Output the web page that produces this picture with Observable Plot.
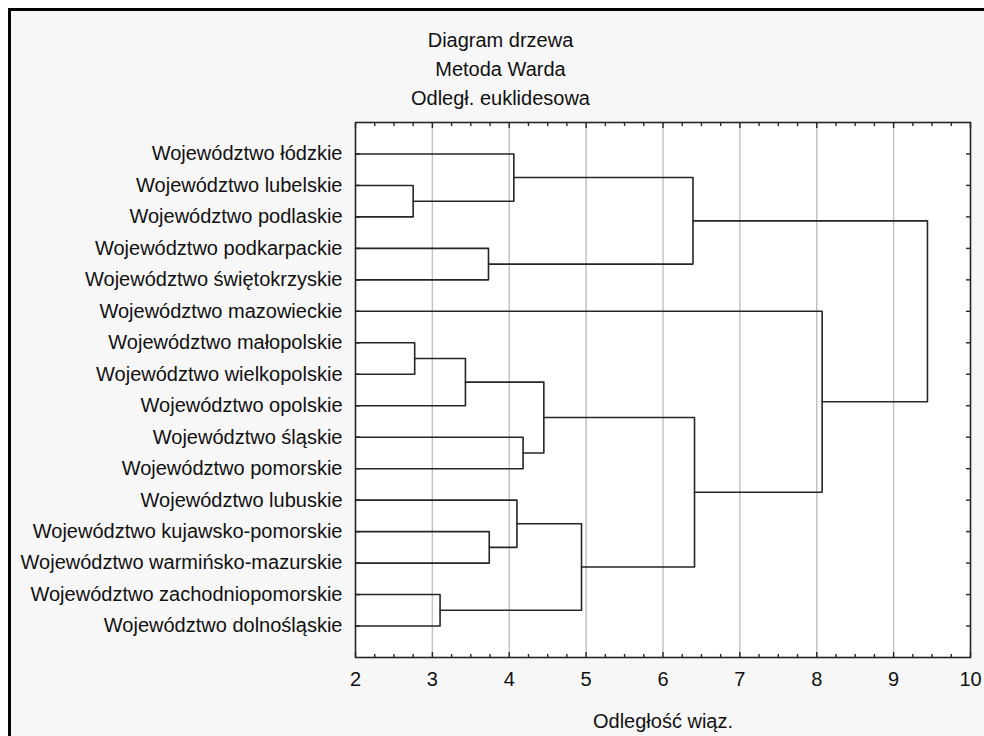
<!DOCTYPE html>
<html><head><meta charset="utf-8">
<script src="https://cdn.jsdelivr.net/npm/d3@7"></script>
<script src="https://cdn.jsdelivr.net/npm/@observablehq/plot@0.6"></script>
<style>
html,body{margin:0;padding:0;background:#fff;width:984px;height:736px;overflow:hidden;}
#bg{position:absolute;left:8px;top:8px;width:976px;height:728px;border-left:3px solid #000;border-top:3px solid #000;background:#f7f7f7;box-sizing:border-box;}
#chart{position:absolute;left:0;top:0;}
</style></head><body><div id="bg"></div><div id="chart"></div>
<script>
const titleLines = ["Diagram drzewa", "Metoda Warda", "Odległ. euklidesowa"];
const xLabel = "Odległość wiąz.";
const leaves = [
  "Województwo łódzkie",
  "Województwo lubelskie",
  "Województwo podlaskie",
  "Województwo podkarpackie",
  "Województwo świętokrzyskie",
  "Województwo mazowieckie",
  "Województwo małopolskie",
  "Województwo wielkopolskie",
  "Województwo opolskie",
  "Województwo śląskie",
  "Województwo pomorskie",
  "Województwo lubuskie",
  "Województwo kujawsko-pomorskie",
  "Województwo warmińsko-mazurskie",
  "Województwo zachodniopomorskie",
  "Województwo dolnośląskie"
];
// merges (scipy-style: index < 16 = leaf, >= 16 = earlier merge)
const mergeLeft   = [1, 6, 14, 17, 3, 12, 0, 11, 9, 19, 23, 22, 25, 5, 27];
const mergeRight  = [2, 7, 15, 8, 4, 13, 16, 21, 10, 24, 18, 20, 26, 28, 29];
const mergeHeight = [2.75, 2.77, 3.10, 3.43, 3.73, 3.74, 4.06, 4.10, 4.18, 4.45, 4.94, 6.39, 6.41, 8.07, 9.44];
const xTicks = [2, 3, 4, 5, 6, 7, 8, 9, 10];
const gridTicks = [3, 4, 5, 6, 7, 8, 9];
const minorTicks = [2.25, 2.5, 2.75, 3.25, 3.5, 3.75, 4.25, 4.5, 4.75, 5.25, 5.5, 5.75, 6.25, 6.5, 6.75, 7.25, 7.5, 7.75, 8.25, 8.5, 8.75, 9.25, 9.5, 9.75];
const xMin = 2, xMax = 10;

// build node positions
const n = leaves.length;
const nodeX = leaves.map(() => xMin);
const nodeY = leaves.map((_, i) => i);
const segs = [];
mergeHeight.forEach((h, k) => {
  const a = mergeLeft[k], b = mergeRight[k];
  const id = n + k;
  segs.push({id, x: nodeX[a], y: nodeY[a]});
  segs.push({id, x: h, y: nodeY[a]});
  segs.push({id, x: h, y: nodeY[b]});
  segs.push({id, x: nodeX[b], y: nodeY[b]});
  nodeX[id] = h;
  nodeY[id] = (nodeY[a] + nodeY[b]) / 2;
});
const rows = d3.range(n);

const font = "'Liberation Sans', Arial, sans-serif";
const tickStyle = {text: null, label: null, stroke: "#262626", strokeWidth: 1.4};
const chart = Plot.plot({
  width: 984,
  height: 736,
  marginLeft: 355,
  marginRight: 14,
  marginTop: 122,
  marginBottom: 79,
  style: {background: "transparent", fontFamily: font, fontSize: "20px", color: "#111"},
  x: {domain: [xMin, xMax], axis: null},
  y: {domain: [n, -1], axis: null},
  marks: [
    Plot.frame({fill: "white", stroke: null}),
    Plot.ruleX(gridTicks, {stroke: "#c4c4c4", strokeWidth: 1.5}),
    Plot.line(segs, {x: "x", y: "y", z: "id", stroke: "#262626", strokeWidth: 1.6}),
    Plot.frame({stroke: "#262626", strokeWidth: 1.6}),
    // inward ticks
    Plot.axisX({anchor: "top", ticks: xTicks, tickSize: 5, dy: 5, ...tickStyle}),
    Plot.axisX({anchor: "bottom", ticks: xTicks, tickSize: 5, dy: -5, ...tickStyle}),
    Plot.axisX({anchor: "top", ticks: minorTicks, tickSize: 3, dy: 3, ...tickStyle}),
    Plot.axisX({anchor: "bottom", ticks: minorTicks, tickSize: 3, dy: -3, ...tickStyle}),
    Plot.axisY({anchor: "right", ticks: rows, tickSize: 5, dx: -5, ...tickStyle}),
    Plot.axisY({anchor: "left", ticks: rows, tickSize: 5, dx: 5, ...tickStyle}),
    // labels
    Plot.axisX({anchor: "bottom", ticks: xTicks, tickSize: 0, tickPadding: 14, tickFormat: d => String(d), label: null, fill: "#111"}),
    Plot.axisY({anchor: "left", ticks: rows, tickSize: 0, tickPadding: 13, tickFormat: i => leaves[i], label: null, fill: "#111"}),
    Plot.text([xLabel], {text: d => d, frameAnchor: "bottom", dy: 64, lineAnchor: "middle", fill: "#111", fontSize: 20}),
    Plot.text([titleLines.join("\n")], {text: d => d, frameAnchor: "top-left", dx: 145, dy: -96, textAnchor: "middle", lineAnchor: "top", lineHeight: 1.45, fill: "#111", fontSize: 20})
  ]
});
document.getElementById("chart").appendChild(chart);
</script>
</body></html>
